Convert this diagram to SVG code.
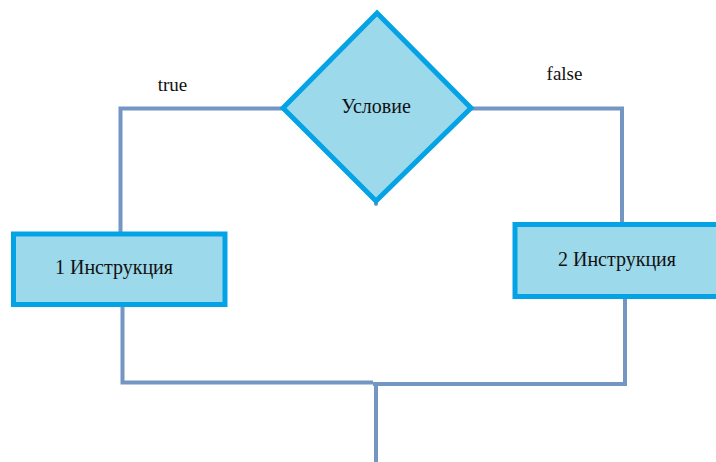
<svg xmlns="http://www.w3.org/2000/svg" width="716" height="462" viewBox="0 0 716 462">
  <style>
    .conn { fill: none; stroke: #7396c3; stroke-width: 4; stroke-linejoin: miter; }
    .shape { fill: #9cd9ea; stroke: #04a3e6; stroke-width: 5; }
    .lbl { font-family: "Liberation Serif", "Times New Roman", serif; font-size: 20px; fill: #111; }
    .sm { font-size: 19px; }
  </style>
  <rect width="716" height="462" fill="#ffffff"/>
  <g id="connectors">
    <polyline class="conn" points="283,108.5 120.5,108.5 120.5,232"/>
    <polyline class="conn" points="471,108.5 622,108.5 622,223"/>
    <polyline class="conn" points="122.5,306 122.5,382.5 373,382.5"/>
    <polyline class="conn" points="625,297 625,384 373,384"/>
    <line class="conn" x1="376" y1="383" x2="376" y2="462"/>
    <line class="conn" x1="376" y1="199" x2="376" y2="204" stroke-linecap="round"/>
  </g>
  <g id="condition">
    <polygon class="shape" points="377,13 471,108 376,201 283,108"/>
    <text class="lbl" x="376" y="113" text-anchor="middle">Условие</text>
  </g>
  <g id="instr1">
    <rect class="shape" x="13.5" y="234" width="211.5" height="70.5"/>
    <text class="lbl" x="114" y="274" text-anchor="middle">1 Инструкция</text>
  </g>
  <g id="instr2">
    <rect class="shape" x="515" y="224.5" width="215" height="72"/>
    <text class="lbl" x="617" y="266" text-anchor="middle">2 Инструкция</text>
  </g>
  <g id="labels">
    <text class="lbl sm" x="172.5" y="91" text-anchor="middle">true</text>
    <text class="lbl sm" x="564.5" y="80" text-anchor="middle">false</text>
  </g>
</svg>
